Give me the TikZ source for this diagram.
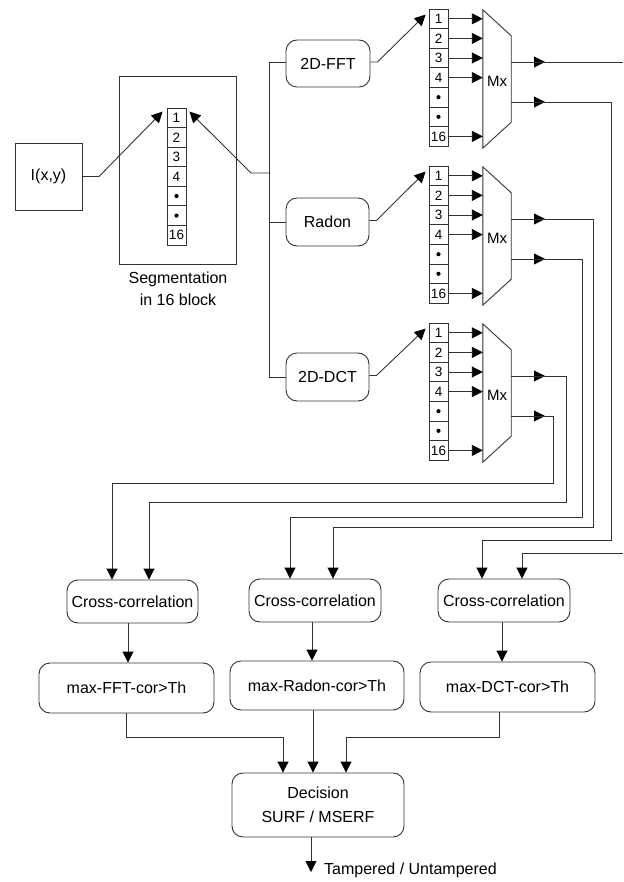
\documentclass[tikz,border=0pt]{standalone}
\usepackage{fontspec}
\setmainfont{Liberation Sans}
\usetikzlibrary{arrows.meta,calc}
\begin{document}
\begin{tikzpicture}[x=1pt,y=-1pt,
  ln/.style={draw=black!80,line width=0.9pt},
  arr/.style={ln,-{Triangle[length=11pt,width=11pt,fill=black,color=black]}},
  box/.style={draw=black!80,line width=0.9pt,inner sep=0pt,font=\fontsize{16}{19}\selectfont},
  rbox/.style={box,rounded corners=11pt},
  cell/.style={draw=black!80,line width=0.8pt,minimum width=19pt,minimum height=19.6pt,inner sep=0pt,font=\fontsize{13.5}{13.5}\selectfont},
  mxbox/.style={minimum width=28pt,minimum height=138pt,inner sep=0pt,font=\fontsize{15}{15}\selectfont},
  lbl/.style={inner sep=0pt,font=\fontsize{16}{19}\selectfont}
]
\useasboundingbox (0,0) rectangle (623,882);
\newcommand{\celldot}{\tikz\fill (0,0) circle (2.1pt);}

% input and segmentation
\node[box,minimum width=67pt,minimum height=67pt] (inp) at (48.5,176.5) {I(x,y)};
\node[box,minimum width=117pt,minimum height=188pt] (seg) at (177.5,170) {};
\foreach \c/\t in {1/1,2/2,3/3,4/4,5/\celldot,6/\celldot,7/16}
  \node[cell] (s\c) at (176.5,{108+19.57*(\c-0.5)}) {\t};
\node[lbl,align=center,font=\fontsize{16}{22}\selectfont] (seglbl) at (178,289) {Segmentation\\ in 16 block};

% transform boxes
\node[rbox,minimum width=84pt,minimum height=47pt] (fft) at (328,63.5) {2D-FFT};
\node[rbox,minimum width=83pt,minimum height=48pt] (radon) at (327.5,222) {Radon};
\node[rbox,minimum width=83pt,minimum height=48pt] (dct) at (327.5,377) {2D-DCT};

% input arrows to segmentation
\draw[arr] (inp.east) -- (99,176.5) -- ([xshift=-4pt,yshift=-4pt]s1.north west);
\draw[ln] ([yshift=1.5pt]fft.west) -- ++(-16,0) coordinate (tt) -- (tt |- dct.west) -- (dct.west);
\draw[ln] (radon.west) -- (radon.west -| tt);
\coordinate (tap) at (270,173);
\draw[arr] (tap) -- (251,173) -- ([xshift=3pt,yshift=-4pt]s1.north east);

% cell columns and multiplexers
\foreach \p/\T/\b in {f/9/fft,r/166/radon,d/323/dct}{
  \foreach \c/\t in {1/1,2/2,3/3,4/4,5/\celldot,6/\celldot,7/16}
    \node[cell] (\p\c) at (438.5,{\T+19.6*(\c-0.5)}) {\t};
  \node[mxbox] (mx\p) at (497,\T+72) {Mx};
  \draw[ln] ([yshift=2pt]mx\p.north west) -- ([yshift=-24pt]mx\p.north east) -- ([yshift=28pt]mx\p.south east) -- ([yshift=2pt]mx\p.south west) -- cycle;
  \foreach \c in {1,2,3,4,7}
    \draw[arr] (\p\c.east) -- (\p\c.east -| mx\p.west);
  \draw[arr] ([yshift=1.5pt]\b.east) -- ++(7,0) -- ([xshift=-3pt,yshift=-6pt]\p1.north west);
  \coordinate (o1\p) at (511,\T+53);
  \coordinate (o2\p) at (511,\T+93);
}

% cross-correlation, max and decision boxes
\node[rbox,minimum width=131pt,minimum height=43pt] (cc1) at (132.5,601.5) {Cross-correlation};
\node[rbox,minimum width=132pt,minimum height=43pt] (cc2) at (315,600.5) {Cross-correlation};
\node[rbox,minimum width=132pt,minimum height=43pt] (cc3) at (504,600.5) {Cross-correlation};
\node[rbox,minimum width=175pt,minimum height=50pt] (m1) at (126.5,688) {max-FFT-cor>Th};
\node[rbox,minimum width=174pt,minimum height=49pt] (m2) at (317,685.5) {max-Radon-cor>Th};
\node[rbox,minimum width=175pt,minimum height=50pt] (m3) at (507.5,687) {max-DCT-cor>Th};
\node[rbox,minimum width=172pt,minimum height=64pt,align=center,font=\fontsize{16}{24}\selectfont] (dec) at (318,805) {Decision\\SURF / MSERF};

% multiplexer outputs (arrowheads mid-line)
\foreach \p in {f,r,d}{
  \draw[arr] (o1\p) -- ++(34,0);
  \draw[arr] (o2\p) -- ++(34,0);
}
\coordinate (edgeA) at (623,62);
\coordinate (edgeB) at (623,553);
\draw[ln] (o1f) -- (edgeA);
\draw[arr] (edgeB) -| ([xshift=18pt]cc3.north);
\draw[arr] (o2f) -| (611,540) -| ([xshift=-22pt]cc3.north);
\draw[arr] (o1r) -| (593,527) -| ([xshift=18pt]cc2.north);
\draw[arr] (o2r) -| (582,517) -| ([xshift=-25pt]cc2.north);
\draw[arr] (o1d) -| (566,502) -| ([xshift=16.5pt]cc1.north);
\draw[arr] (o2d) -| (553,483) -| ([xshift=-20.5pt]cc1.north);

% cross-correlation to max
\draw[arr] ([xshift=-4.5pt]cc1.south) -- ([xshift=-4.5pt]cc1.south |- m1.north);
\draw[arr] ([xshift=-3pt]cc2.south) -- ([xshift=-3pt]cc2.south |- m2.north);
\draw[arr] ([xshift=-2pt]cc3.south) -- ([xshift=-2pt]cc3.south |- m3.north);

% max to decision
\draw[arr] (m1.south) -- ++(0,24) -| ([xshift=-35pt]dec.north);
\draw[arr] ([xshift=-4pt]m2.south) -- ([xshift=-4pt]m2.south |- dec.north);
\draw[arr] ([xshift=-8.5pt]m3.south) -- ++(0,25) -| ([xshift=28pt]dec.north);

% output
\coordinate (out) at (311,872);
\draw[arr] (dec.south -| out) -- (out);
\node[lbl,anchor=west] (res) at (324,870) {Tampered / Untampered};
\end{tikzpicture}
\end{document}
